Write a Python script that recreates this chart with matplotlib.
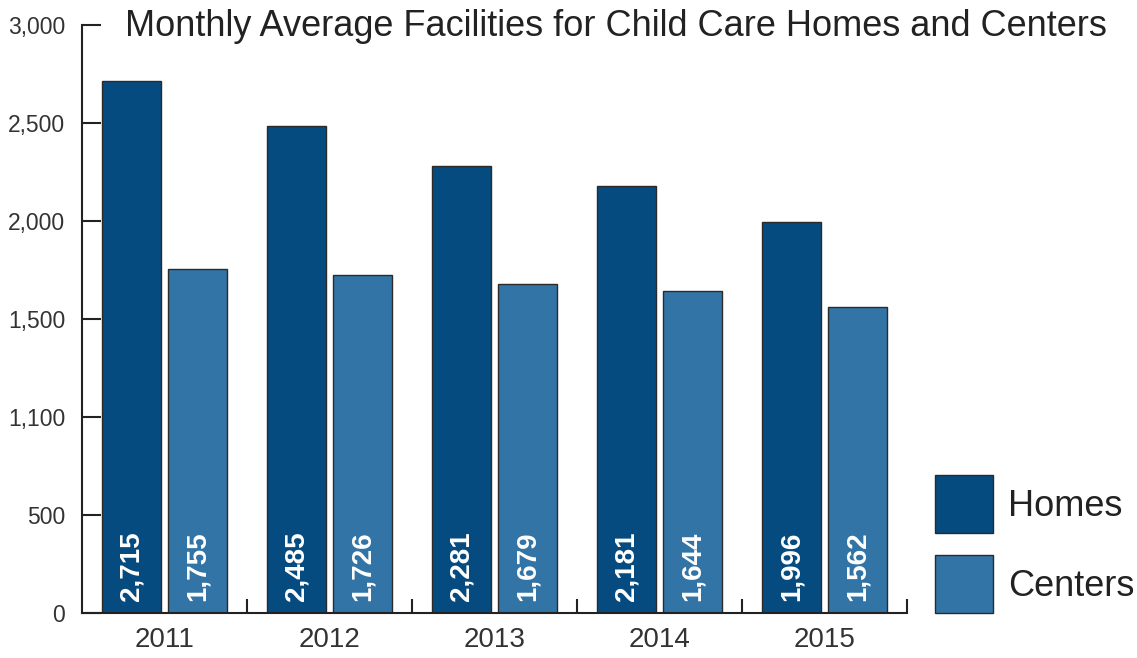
import matplotlib
matplotlib.use("Agg")
import matplotlib.pyplot as plt
import numpy as np
from matplotlib.patches import Rectangle

# データ
years = ["2011", "2012", "2013", "2014", "2015"]
homes = [2715, 2485, 2281, 2181, 1996]
centers = [1755, 1726, 1679, 1644, 1562]
ytick_values = [0, 500, 1000, 1500, 2000, 2500, 3000]
ytick_labels = ["0", "500", "1,100", "1,500", "2,000", "2,500", "3,000"]

homes_color = "#064b80"
centers_color = "#3274a6"
edge_color = "#2a2a2a"
text_color = "#333333"

plt.rcParams['font.family'] = ['Liberation Sans', 'DejaVu Sans']

fig = plt.figure(figsize=(11.37, 6.58), dpi=100)
ax = fig.add_axes([82 / 1137, 1 - 613 / 658, 825 / 1137, 588 / 658])

x = np.arange(len(years)) + 0.5
w = 0.36
ax.bar(x - 0.2, homes, w, color=homes_color, edgecolor=edge_color, linewidth=1)
ax.bar(x + 0.2, centers, w, color=centers_color, edgecolor=edge_color, linewidth=1)

# 棒の中の数値ラベル
for xi, h, c in zip(x, homes, centers):
    for pos, v in ((xi - 0.2, h), (xi + 0.2, c)):
        ax.text(pos, 60, f"{v:,}", rotation=90, ha="center", va="bottom",
                color="white", fontsize=20, fontweight="bold")

ax.set_xlim(0, 5)
ax.set_ylim(0, 3000)
ax.set_yticks(ytick_values)
ax.set_yticklabels(ytick_labels)
ax.set_xticks(np.arange(1, 6))
ax.set_xticklabels([])
ax.set_xticks(x, minor=True)
ax.set_xticklabels(years, minor=True)

ax.tick_params(axis="y", direction="in", length=14, width=1.5, colors="#222222",
               labelsize=16.5, labelcolor=text_color, pad=12)
ax.tick_params(axis="x", which="major", direction="in", length=10, width=1.5, colors="#222222")
ax.tick_params(axis="x", which="minor", length=0, labelsize=20, labelcolor=text_color, pad=10)

for s in ["top", "right"]:
    ax.spines[s].set_visible(False)
for s in ["left", "bottom"]:
    ax.spines[s].set_linewidth(1.5)
    ax.spines[s].set_color("#222222")

fig.text(125 / 1137, 1 - 26 / 658, "Monthly Average Facilities for Child Care Homes and Centers",
         fontsize=26, color="#222222", va="center", ha="left")

# 凡例
for i, (lab, col) in enumerate((("Homes", homes_color), ("Centers", centers_color))):
    top = 475 + i * 80
    fig.add_artist(Rectangle((935 / 1137, 1 - (top + 58) / 658), 58 / 1137, 58 / 658,
                             transform=fig.transFigure, facecolor=col,
                             edgecolor=edge_color, linewidth=1))
    fig.text(1008 / 1137, 1 - (top + 31) / 658, lab, fontsize=26, color="#222222",
             va="center", ha="left")

fig.savefig("out.png", dpi=100)
plt.close(fig)
